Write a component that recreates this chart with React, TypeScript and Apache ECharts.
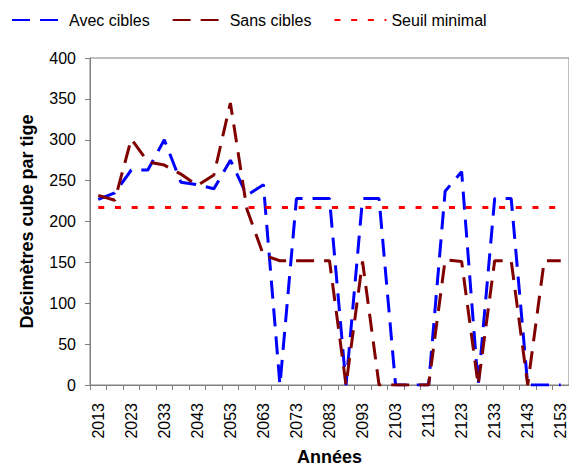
import React, { useEffect, useRef } from "react";
import * as echarts from "echarts";

const YEARS = [
  "2013", "2018", "2023", "2028", "2033", "2038", "2043", "2048", "2053", "2058",
  "2063", "2068", "2073", "2078", "2083", "2088", "2093", "2098", "2103", "2108",
  "2113", "2118", "2123", "2128", "2133", "2138", "2143", "2148", "2153",
];

const AVEC_CIBLES = [
  227, 235, 263, 263, 300, 248, 245, 240, 275, 232,
  245, 0, 228, 228, 228, 0, 228, 228, 0, 0,
  0, 237, 261, 0, 228, 228, 0, 0, 0,
];

const SANS_CIBLES = [
  232, 226, 301, 273, 269, 258, 244, 257, 345, 215,
  159, 152, 152, 152, 152, 0, 151, 0, 0, 0,
  0, 153, 151, 0, 152, 152, 0, 152, 152,
];

const SEUIL_MINIMAL = [
  217, 217, 217, 217, 217, 217, 217, 217, 217, 217,
  217, 217, 217, 217, 217, 217, 217, 217, 217, 217,
  217, 217, 217, 217, 217, 217, 217, 217, 217,
];

const FONT = "'Liberation Sans', Arial, sans-serif";

export default function App() {
  const ref = useRef<HTMLDivElement>(null);

  useEffect(() => {
    if (!ref.current) return;
    const chart = echarts.init(ref.current, undefined, { renderer: "svg" });
    chart.setOption({
      animation: false,
      backgroundColor: "#ffffff",
      textStyle: { fontFamily: FONT },
      legend: {
        left: 11,
        top: 12,
        padding: 0,
        itemWidth: 52,
        itemHeight: 14,
        itemGap: 22,
        itemStyle: { opacity: 0 },
        textStyle: { fontFamily: FONT, fontSize: 16, color: "#000" },
        data: ["Avec cibles", "Sans cibles", "Seuil minimal"],
      },
      grid: {
        left: 90,
        top: 58,
        width: 483.3,
        height: 332,
        show: true,
        borderColor: "#808080",
        borderWidth: 1,
        backgroundColor: "transparent",
      },
      xAxis: {
        type: "category",
        data: YEARS,
        boundaryGap: true,
        name: "Années",
        nameLocation: "middle",
        nameGap: 63,
        nameTextStyle: { fontFamily: FONT, fontSize: 18, fontWeight: "bold", color: "#000" },
        axisLine: { show: true, lineStyle: { color: "#808080", width: 1 } },
        axisTick: { show: true, interval: 0, length: 5, lineStyle: { color: "#808080" } },
        axisLabel: {
          interval: 1,
          rotate: 90,
          margin: 18,
          fontFamily: FONT,
          fontSize: 16,
          color: "#000",
        },
        splitLine: { show: false },
      },
      yAxis: {
        type: "value",
        min: 0,
        max: 400,
        interval: 50,
        name: "Décimètres cube par tige",
        nameLocation: "middle",
        nameGap: 54,
        nameTextStyle: { fontFamily: FONT, fontSize: 18, fontWeight: "bold", color: "#000" },
        axisLine: { show: true, lineStyle: { color: "#808080", width: 1 } },
        axisTick: { show: true, length: 5, lineStyle: { color: "#808080" } },
        axisLabel: { margin: 14, fontFamily: FONT, fontSize: 16, color: "#000" },
        splitLine: { show: false },
      },
      series: [
        {
          name: "Avec cibles",
          type: "line",
          data: AVEC_CIBLES,
          symbol: "none",
          showSymbol: false,
          itemStyle: { color: "#0000FF" },
          lineStyle: { color: "#0000FF", width: 3, type: [18, 10] },
        },
        {
          name: "Sans cibles",
          type: "line",
          data: SANS_CIBLES,
          symbol: "none",
          showSymbol: false,
          itemStyle: { color: "#800000" },
          lineStyle: { color: "#800000", width: 3, type: [18, 10] },
        },
        {
          name: "Seuil minimal",
          type: "line",
          data: SEUIL_MINIMAL,
          symbol: "none",
          showSymbol: false,
          itemStyle: { color: "#FF0000" },
          lineStyle: { color: "#FF0000", width: 3, type: [6, 10.7] },
        },
      ],
    });
    return () => chart.dispose();
  }, []);

  return (
    <div
      ref={ref}
      style={{ position: "absolute", left: 0, top: 0, width: 569, height: 471 }}
    />
  );
}
